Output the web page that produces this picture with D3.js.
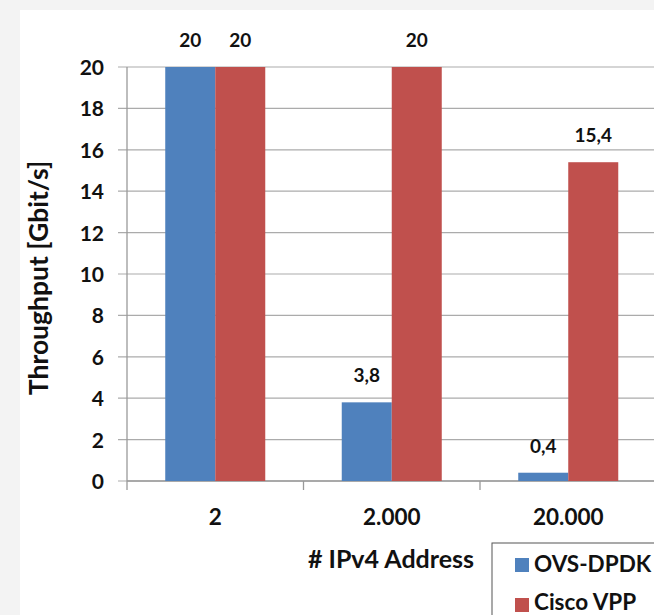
<!DOCTYPE html>
<html>
<head>
<meta charset="utf-8">
<script src="https://cdn.jsdelivr.net/npm/d3@7"></script>
<style>
  html, body { margin: 0; padding: 0; background: #f3f3f3; }
  svg { display: block; }
  text { font-family: Lato, "Open Sans", sans-serif; font-weight: 700; fill: #111; }
</style>
</head>
<body>
<svg id="chart" width="654" height="615"></svg>
<script>
// Throughput per number of IPv4 addresses
const categories = ["2", "2.000", "20.000"];
const seriesNames = ["OVS-DPDK", "Cisco VPP"];
const ovsDpdk = [20, 3.8, 0.4];
const ciscoVpp = [20, 20, 15.4];
const valueLabels = [["20", "3,8", "0,4"], ["20", "20", "15,4"]];
const yTicks = [0, 2, 4, 6, 8, 10, 12, 14, 16, 18, 20];
const colors = ["#4f81bd", "#c0504d"];

const svg = d3.select("#chart");
const W = 654, H = 615;

// white chart panel
svg.append("rect").attr("x", 20).attr("y", 10).attr("width", W - 20).attr("height", H - 10).attr("fill", "#ffffff");

const plotLeft = 127, plotTop = 67, plotBottom = 481;
const y = d3.scaleLinear().domain([0, 20]).range([plotBottom, plotTop]);
const x0 = d3.scaleBand().domain(categories).range([plotLeft, plotLeft + 529.5]).paddingInner(0.4334).paddingOuter(0.2167);
const x1 = d3.scaleBand().domain(seriesNames).range([0, x0.bandwidth()]);

// horizontal gridlines with tick marks
const grid = svg.append("g");
grid.selectAll("line").data(yTicks).join("line")
  .attr("x1", plotLeft - 9).attr("x2", W)
  .attr("y1", d => y(d)).attr("y2", d => y(d))
  .attr("stroke", "#ababab").attr("stroke-width", 1.2);

// y axis labels
const yAxis = d3.axisLeft(y).tickValues(yTicks).tickSize(0).tickPadding(23).tickFormat(d3.format("d"));
const ya = svg.append("g").attr("transform", `translate(${plotLeft},0)`).call(yAxis);
ya.select(".domain").remove();
ya.selectAll("text").style("font-size", "21px").style("font-family", "Lato, sans-serif").style("font-weight", 700).attr("fill", "#111").attr("dy", "0.36em");

// y axis line
svg.append("line").attr("x1", plotLeft).attr("x2", plotLeft).attr("y1", plotTop).attr("y2", plotBottom + 9)
  .attr("stroke", "#9a9a9a").attr("stroke-width", 1.3);

// x axis line and category boundary ticks
svg.append("line").attr("x1", plotLeft).attr("x2", W).attr("y1", plotBottom).attr("y2", plotBottom)
  .attr("stroke", "#9a9a9a").attr("stroke-width", 1.3);
const step = x0.step();
const bounds = categories.map(c => x0(c) - x0.paddingOuter() * step + step).slice(0, 2);
svg.append("g").selectAll("line").data(bounds).join("line")
  .attr("x1", d => d).attr("x2", d => d).attr("y1", plotBottom).attr("y2", plotBottom + 9)
  .attr("stroke", "#9a9a9a").attr("stroke-width", 1.3);

// bars and value labels
const series = [ovsDpdk, ciscoVpp];
const bars = svg.append("g");
const labels = svg.append("g");
series.forEach((vals, si) => {
  bars.selectAll(null).data(vals).join("rect")
    .attr("x", (d, i) => x0(categories[i]) + x1(seriesNames[si]))
    .attr("y", d => y(d))
    .attr("width", x1.bandwidth())
    .attr("height", d => plotBottom - y(d))
    .attr("fill", colors[si]);
  labels.selectAll(null).data(vals).join("text")
    .attr("x", (d, i) => x0(categories[i]) + x1(seriesNames[si]) + x1.bandwidth() / 2)
    .attr("y", d => y(d) - 20)
    .attr("text-anchor", "middle")
    .style("font-size", "19px")
    .text((d, i) => valueLabels[si][i]);
});

// category labels
const xAxis = d3.axisBottom(x0).tickSize(0).tickPadding(28);
const xa = svg.append("g").attr("transform", `translate(0,${plotBottom})`).call(xAxis);
xa.select(".domain").remove();
xa.selectAll("text").style("font-size", "22.5px").style("font-family", "Lato, sans-serif").style("font-weight", 700).attr("fill", "#111");

// axis titles
svg.append("text").attr("transform", "translate(48,278) rotate(-90)")
  .attr("text-anchor", "middle").style("font-size", "26.5px").text("Throughput [Gbit/s]");
svg.append("text").attr("x", 391).attr("y", 568)
  .attr("text-anchor", "middle").style("font-size", "25px").text("# IPv4 Address");

// legend
const lg = svg.append("g");
lg.append("rect").attr("x", 492).attr("y", 543).attr("width", 170).attr("height", 80)
  .attr("fill", "#fff").attr("stroke", "#555").attr("stroke-width", 1);
seriesNames.forEach((name, i) => {
  lg.append("rect").attr("x", 515).attr("y", 558 + i * 40).attr("width", 14).attr("height", 14).attr("fill", colors[i]);
  lg.append("text").attr("x", 534).attr("y", 572 + i * 38).style("font-size", "22.5px").text(name);
});
</script>
</body>
</html>
